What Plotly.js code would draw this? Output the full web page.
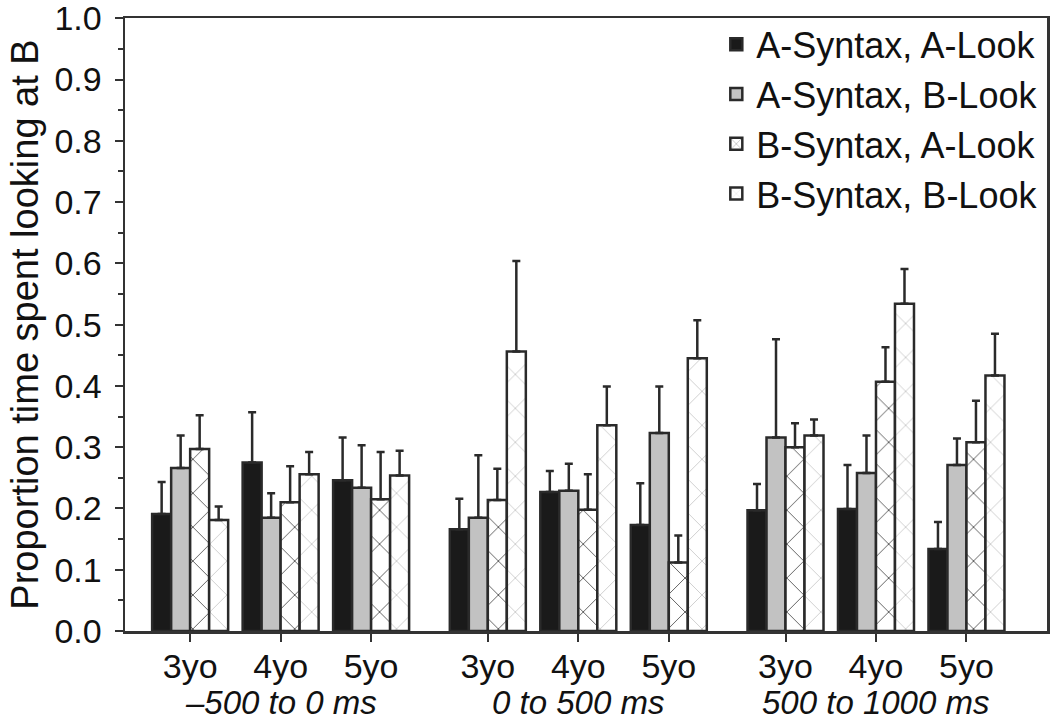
<!DOCTYPE html>
<html>
<head>
<meta charset="utf-8">
<script src="https://cdn.plot.ly/plotly-3.0.1.min.js"></script>
<style>
html,body{margin:0;padding:0;background:#fff;}
#chart{width:1050px;height:722px;}
</style>
</head>
<body>
<div id="chart"></div>
<script>
// Group positions (3 time windows x 3 age groups)
var positions = [0, 1, 2, 3.29, 4.29, 5.29, 6.58, 7.58, 8.58];
var ageLabels = ["3yo", "4yo", "5yo", "3yo", "4yo", "5yo", "3yo", "4yo", "5yo"];
var windowLabels = ["\u2013500 to 0 ms", "0 to 500 ms", "500 to 1000 ms"];
var windowCenters = [1, 4.29, 7.58];
var yTickVals = [0, 0.1, 0.2, 0.3, 0.4, 0.5, 0.6, 0.7, 0.8, 0.9, 1.0];
var yTickText = ["0.0", "0.1", "0.2", "0.3", "0.4", "0.5", "0.6", "0.7", "0.8", "0.9", "1.0"];

var seriesNames = ["A-Syntax, A-Look", "A-Syntax, B-Look", "B-Syntax, A-Look", "B-Syntax, B-Look"];

// Means
var aSynALook = [0.191, 0.275, 0.246, 0.166, 0.227, 0.173, 0.197, 0.199, 0.134];
var aSynBLook = [0.266, 0.185, 0.234, 0.185, 0.229, 0.323, 0.316, 0.258, 0.271];
var bSynALook = [0.297, 0.210, 0.215, 0.214, 0.198, 0.112, 0.300, 0.407, 0.308];
var bSynBLook = [0.181, 0.256, 0.254, 0.456, 0.336, 0.445, 0.319, 0.534, 0.417];

// Upper error bar ends
var aSynALookUp = [0.243, 0.357, 0.316, 0.216, 0.261, 0.241, 0.240, 0.271, 0.178];
var aSynBLookUp = [0.319, 0.225, 0.303, 0.287, 0.273, 0.399, 0.476, 0.319, 0.314];
var bSynALookUp = [0.352, 0.269, 0.292, 0.265, 0.256, 0.156, 0.339, 0.463, 0.376];
var bSynBLookUp = [0.203, 0.292, 0.294, 0.604, 0.399, 0.507, 0.345, 0.591, 0.485];

var means = [aSynALook, aSynBLook, bSynALook, bSynBLook];
var ups = [aSynALookUp, aSynBLookUp, bSynALookUp, bSynBLookUp];

var fills = ["#1a1a1a", "#c2c2c2", "#ffffff", "#ffffff"];
var patterns = [
  null,
  null,
  {shape: "x", fgcolor: "#4a4a4a", bgcolor: "#ffffff", size: 24, solidity: 0.07},
  {shape: "x", fgcolor: "#c8c8c8", bgcolor: "#ffffff", size: 24, solidity: 0.07}
];

var traces = [];
for (var s = 0; s < 4; s++) {
  var errs = means[s].map(function (v, i) { return +(ups[s][i] - v).toFixed(3); });
  var marker = {color: fills[s], line: {color: "#2a2a2a", width: 2.5}};
  if (patterns[s]) marker.pattern = patterns[s];
  traces.push({
    type: "bar",
    name: seriesNames[s],
    x: positions,
    y: means[s],
    marker: marker,
    error_y: {
      type: "data", symmetric: false, array: errs,
      arrayminus: errs.map(function () { return 0; }),
      color: "#2a2a2a", thickness: 2.5, width: 4
    },
    hoverinfo: "name+y"
  });
}

var FONT = "Liberation Sans, Arial, sans-serif";
var annotations = windowLabels.map(function (t, i) {
  return {
    text: "<i>" + t + "</i>", x: windowCenters[i], xref: "x",
    y: -0.117, yref: "paper", yanchor: "middle", xanchor: "center",
    showarrow: false, font: {family: FONT, size: 33, color: "#111"}
  };
});

var layout = {
  width: 1050, height: 722,
  margin: {l: 125, r: 3, t: 18, b: 91},
  paper_bgcolor: "#fff", plot_bgcolor: "#fff",
  barmode: "group", bargap: 0.16, bargroupgap: 0,
  font: {family: FONT, color: "#111"},
  showlegend: true,
  legend: {
    x: 0.996, xanchor: "right", y: 1.006, yanchor: "top",
    font: {family: FONT, size: 36, color: "#111"},
    bgcolor: "rgba(0,0,0,0)", borderwidth: 0, itemwidth: 30
  },
  xaxis: {
    range: [-0.72, 9.47],
    tickvals: positions, ticktext: ageLabels,
    ticks: "outside", ticklen: 8, tickwidth: 2, tickcolor: "#333",
    showline: true, linecolor: "#333", linewidth: 2.5, mirror: true,
    showgrid: false, zeroline: false,
    ticklabelstandoff: -4,
    tickfont: {family: FONT, size: 34, color: "#111"}
  },
  yaxis: {
    range: [0, 1.0005],
    tickvals: yTickVals, ticktext: yTickText,
    ticklabeloverflow: "allow",
    ticks: "outside", ticklen: 8, tickwidth: 2, tickcolor: "#333",
    minor: {dtick: 0.05, ticks: "outside", ticklen: 5, tickwidth: 2, tickcolor: "#333"},
    showline: true, linecolor: "#333", linewidth: 2.5, mirror: true,
    showgrid: false, zeroline: false,
    ticklabelstandoff: 6,
    tickfont: {family: FONT, size: 34, color: "#111"},
    title: {text: "Proportion time spent looking at B", font: {family: FONT, size: 38, color: "#111"}, standoff: 4}
  },
  annotations: annotations
};

Plotly.newPlot("chart", traces, layout, {displayModeBar: false, staticPlot: true});
</script>
</body>
</html>
